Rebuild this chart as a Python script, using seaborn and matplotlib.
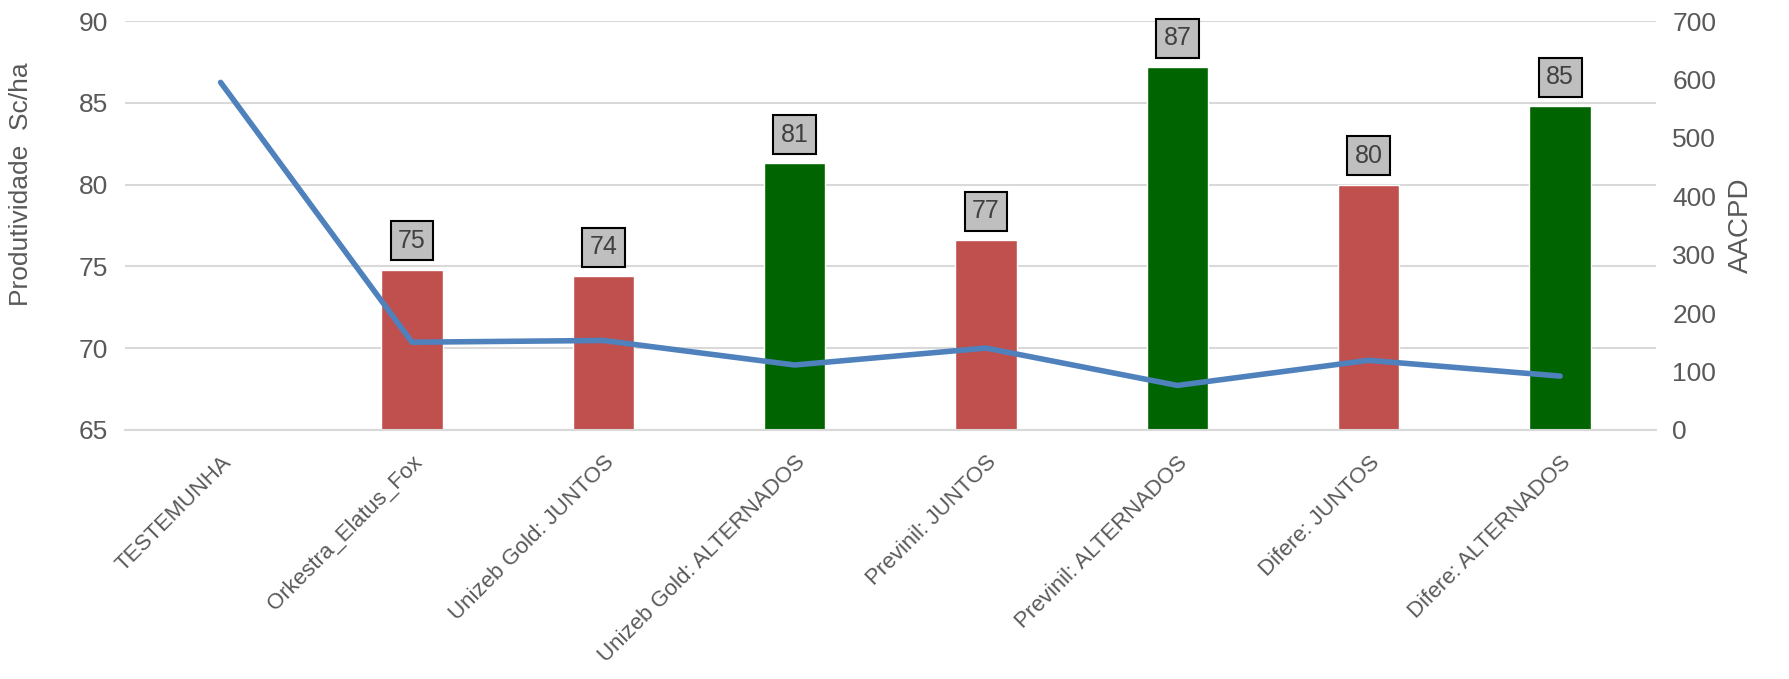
import numpy as np
import pandas as pd
import seaborn as sns
import matplotlib.pyplot as plt

# dados
tratamentos = ["TESTEMUNHA", "Orkestra_Elatus_Fox", "Unizeb Gold: JUNTOS",
               "Unizeb Gold: ALTERNADOS", "Previnil: JUNTOS",
               "Previnil: ALTERNADOS", "Difere: JUNTOS", "Difere: ALTERNADOS"]
produtividade = [np.nan, 74.8, 74.4, 81.3, 76.6, 87.2, 80.0, 84.8]
aacpd = [595, 150, 153, 111, 140, 76, 119, 92]

sns.set_theme(style="white")
plt.rcParams['font.family'] = ['Liberation Sans', 'DejaVu Sans']
cinza = "#595959"

df = pd.DataFrame({"trat": tratamentos, "prod": produtividade, "aacpd": aacpd})
df["pos"] = np.arange(len(df))
df_bar = df.dropna(subset=["prod"])

cores = {t: ("#006400" if "ALTERNADOS" in t else "#C0504D") for t in tratamentos}

fig, ax = plt.subplots(figsize=(17.9, 6.79), dpi=100)
fig.subplots_adjust(left=0.0698, right=0.925, top=0.969, bottom=0.367)

sns.barplot(data=df_bar, x="trat", y="prod", hue="trat", order=tratamentos,
            palette=cores, width=0.32, legend=False, ax=ax, saturation=1)
ax.set_ylim(65, 90)
ax.set_xlim(-0.5, len(tratamentos) - 0.5)
ax.set_yticks(np.arange(65, 91, 5))
ax.yaxis.grid(True, color="#D9D9D9", linewidth=1.5)
ax.set_axisbelow(True)
for s in ["top", "right", "left"]:
    ax.spines[s].set_visible(False)
ax.spines["bottom"].set_color("#D9D9D9")
ax.spines["bottom"].set_linewidth(1.5)
ax.tick_params(axis="both", length=0, colors=cinza)
ax.tick_params(axis="y", labelsize=19, pad=12)
ax.set_xticks(range(len(tratamentos)))
ax.set_xticklabels(tratamentos, rotation=45, ha="right", rotation_mode="anchor",
                   fontsize=16, color=cinza)
ax.tick_params(axis="x", pad=16)
ax.set_xlabel("")
ax.set_ylabel("Produtividade  Sc/ha", fontsize=19, color=cinza)
ax.yaxis.set_label_coords(-0.060, 0.60)

for cont in ax.containers:
    ax.bar_label(cont, fmt="%.0f", padding=12, fontsize=18, color="#404040",
                 bbox=dict(boxstyle="square,pad=0.3", fc="#BFBFBF", ec="black", lw=1.5))

ax2 = ax.twinx()
sns.lineplot(data=df, x="pos", y="aacpd", color="#4F81BD", linewidth=4, ax=ax2)
ax2.set_ylim(0, 700)
ax2.set_yticks(np.arange(0, 701, 100))
for s in ["top", "right", "left", "bottom"]:
    ax2.spines[s].set_visible(False)
ax2.tick_params(axis="y", length=0, colors=cinza, labelsize=19, pad=12)
ax2.set_ylabel("AACPD", fontsize=20, color=cinza, labelpad=8)
ax2.set_xlabel("")

fig.savefig("out.png", dpi=100)
